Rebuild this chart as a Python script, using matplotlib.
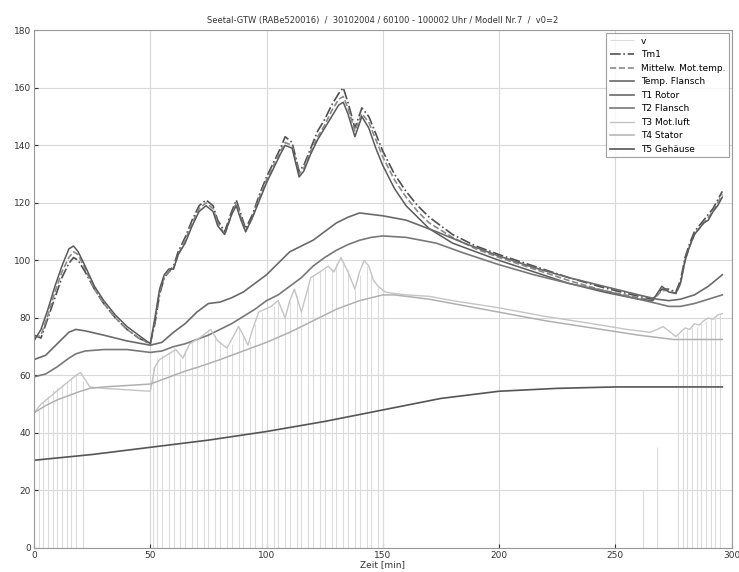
import numpy as np
import matplotlib
matplotlib.use("Agg")
import matplotlib.pyplot as plt

# Zeitachse der drei oberen Kurven (Motortemperaturen)
t_top = [0, 3, 6, 9, 12, 15, 17, 19, 22, 26, 30, 35, 40, 45, 50, 52, 54, 56, 58, 60,
         62, 65, 68, 71, 74, 77, 79, 82, 85, 87, 89, 91, 94, 97, 100, 103, 106, 108, 111, 114,
         116, 119, 122, 125, 128, 131, 133, 135, 138, 141, 144, 147, 150, 155, 160, 165, 170, 180, 190, 200,
         215, 230, 245, 260, 266, 270, 273, 276, 278, 280, 282, 284, 286, 288, 290, 292, 294, 296]

tm1 = [74, 73, 80, 87, 94, 99, 101, 100, 96, 90, 85, 80, 76, 73, 71, 78, 88, 94, 96, 98,
       103, 108, 114, 119, 121, 119, 114, 110, 117, 121, 116, 111, 116, 123, 129, 134, 139, 143, 141, 131,
       133, 139, 145, 149, 154, 158, 160, 155, 146, 153, 150, 144, 138, 130, 124, 119, 115, 109, 105, 102,
       98, 94, 90.5, 87.5, 86.5, 90, 90, 89, 93, 101, 106, 110, 112, 114, 116, 118, 121, 124]

mittelw = [73, 74, 81, 89, 96, 101, 103, 102, 97, 90, 85, 80, 76, 73, 71, 79, 89, 94, 96, 97,
           102, 107, 113, 118, 120, 118, 113, 109, 116, 120, 115, 110, 115, 122, 128, 133, 138, 141, 140, 130,
           132, 138, 143, 147, 152, 156, 157, 153, 145, 151, 148, 142, 136, 128, 122, 117, 113, 108, 104, 101,
           97, 93, 89.5, 87, 86, 89.5, 89.5, 88.5, 92, 100, 105, 109, 111, 113, 115, 117, 120, 123]

flansch = [72, 76, 83, 91, 98, 104, 105, 103, 98, 91, 86, 81, 77, 74, 71, 80, 90, 95, 97, 97,
           102, 106, 112, 117, 119, 117, 112, 109, 116, 119, 114, 110, 115, 121, 127, 132, 137, 140, 139, 129,
           131, 137, 142, 146, 150, 154, 155, 151, 143, 150, 146, 139, 133, 125, 119, 115, 111, 106, 103, 100,
           96, 92, 89, 86.5, 86, 91, 89, 88.5, 92, 100, 105, 109, 111, 113, 114, 117, 119, 122]

# Modelltemperaturen T1, T2
t_mod = [0, 5, 10, 15, 18, 22, 30, 40, 50, 55, 60, 65, 70, 75, 80, 85, 90, 95, 100, 105,
         110, 115, 120, 125, 130, 135, 140, 145, 150, 160, 173, 185, 200, 215, 230, 245, 260, 268, 273, 278,
         284, 290, 296]
t1_rotor = [65.5, 67, 71, 75, 76, 75.5, 74, 72, 70.5, 71.5, 75, 78, 82, 85, 85.5, 87, 89, 92, 95, 99,
            103, 105, 107, 110, 113, 115, 116.5, 116, 115.5, 114, 110, 106, 101.5, 97.5, 94, 91, 88, 86.5, 86, 86.5,
            88, 91, 95]
t2_flansch = [59.5, 60.5, 63, 66, 67.5, 68.5, 69, 69, 68, 68.5, 70, 71, 72.5, 74, 76, 78, 80.5, 83, 86, 88,
              91, 94, 98, 101, 103.5, 105.5, 107, 108, 108.5, 108, 106, 102.5, 98.5, 95, 92, 89.5, 86.5, 85, 84, 84,
              85, 86.5, 88]

t_t3 = [0, 3, 6, 9, 12, 15, 18, 20, 22, 24, 30, 40, 50, 52, 54, 57, 61, 64, 67, 72,
        76, 79, 83, 86, 88, 90, 92, 94, 96.6, 102, 105, 108, 110, 112, 115, 117, 119, 123, 126.5, 129,
        132, 135, 138, 140, 142, 144, 146, 148, 151, 155, 160, 170, 180, 200, 220, 240, 255, 265, 268, 270.5,
        273, 276, 278, 280, 282, 284, 286, 288, 290, 292, 294, 296]
t3_luft = [47, 50, 52, 54, 56, 58, 60, 61, 58.5, 56, 55.5, 55, 54.5, 63, 65.5, 67, 69, 66, 71, 73.5,
           76, 72, 69.5, 74, 77, 74, 70.5, 76, 82, 84, 86, 80, 86, 90, 82, 88, 94, 96, 98, 96,
           101, 96, 90, 96, 100, 98, 93, 91, 89, 88.5, 88, 87.5, 86, 83.5, 80.5, 78, 76, 75, 76, 77,
           75.5, 73.5, 75, 76.5, 76, 78, 77.5, 79, 80, 79.5, 81, 81.5]

t_t4 = [0, 5, 10, 15, 20, 24, 30, 40, 50, 55, 60, 65, 71, 80, 90, 100, 110, 120, 130, 140,
        150, 155, 160, 170, 180, 200, 220, 240, 260, 270, 275, 285, 296]
t4_stator = [47, 49.5, 51.5, 53, 54.5, 55.5, 56, 56.5, 57, 58.5, 60, 61.5, 63, 65.5, 68.5, 71.5, 75, 79, 83, 86,
             88, 88, 87.5, 86.5, 85, 82, 79, 76.5, 74, 73, 72.5, 72.5, 72.5]

t_t5 = [0, 25, 50, 75, 100, 125, 150, 175, 200, 225, 250, 275, 296]
t5_gehaeuse = [30.5, 32.5, 35, 37.5, 40.5, 44, 48, 52, 54.5, 55.5, 56, 56, 56]

# Geschwindigkeit v (Signal springt immer wieder auf 0)
v_t = [2, 4, 6, 8, 10, 12, 14, 16, 18, 21,
       51, 53, 55, 58, 60, 63, 65, 68, 70, 73, 75, 78, 80, 83, 85, 88, 90, 93, 95, 98,
       100, 103, 105, 108, 110, 113, 115, 118, 120, 123, 125, 128, 130, 133, 135, 138, 140, 143, 145, 148,
       150, 262, 268, 277, 279, 281, 283, 285, 287, 289, 291, 293, 295]
v_kmh = [48, 51, 53, 55, 56, 57, 58, 59, 60, 58,
         63, 66, 67, 68, 70, 66, 69, 72, 73, 74, 76, 74, 72, 70, 71, 77, 74, 72, 78, 82,
         83, 84, 86, 80, 86, 88, 82, 91, 95, 96, 97, 97, 99, 100, 97, 90, 95, 98, 96, 91,
         90, 20, 35, 74, 75, 76, 77, 77, 78, 79, 80, 80, 81, 81]

fig = plt.figure(figsize=(7.39, 5.72), dpi=100)
ax = fig.add_axes([0.046, 0.042, 0.944, 0.905])

ax.vlines(v_t, 0, v_kmh[:len(v_t)], color='#dcdcdc', lw=0.8, label='v')
ax.plot(t_top, tm1, color='#505050', ls='-.', lw=1.2, label='Tm1')
ax.plot(t_top, mittelw, color='#8a8a8a', ls='--', lw=1.2, label='Mittelw. Mot.temp.')
ax.plot(t_top, flansch, color='#5a5a5a', ls='-', lw=1.1, label='Temp. Flansch')
ax.plot(t_mod, t1_rotor, color='#6a6a6a', lw=1.2, label='T1 Rotor')
ax.plot(t_mod, t2_flansch, color='#787878', lw=1.2, label='T2 Flansch')
ax.plot(t_t3, t3_luft, color='#c4c4c4', lw=1.0, label='T3 Mot.luft')
ax.plot(t_t4, t4_stator, color='#b0b0b0', lw=1.1, label='T4 Stator')
ax.plot(t_t5, t5_gehaeuse, color='#555555', lw=1.2, label='T5 Gehäuse')

ax.set_xlim(0, 300)
ax.set_ylim(0, 180)
ax.set_xticks(np.arange(0, 301, 50))
ax.set_yticks(np.arange(0, 181, 20))
ax.grid(True, color='#d8d8d8', lw=0.8)
ax.tick_params(direction='in', labelsize=6.5, colors='#333333', length=3, pad=2)
for s in ax.spines.values():
    s.set_color('#999999')

ax.set_title('Seetal-GTW (RABe520016)  /  30102004 / 60100 - 100002 Uhr / Modell Nr.7  /  v0=2',
             fontsize=6, color='#333333', pad=5)
ax.set_xlabel('Zeit [min]', fontsize=6.5, color='#333333', labelpad=0)

leg = ax.legend(loc='upper right', fontsize=6.5, frameon=True, fancybox=False,
                edgecolor='#888888', handlelength=2.6, borderaxespad=0.3, labelspacing=0.5)
leg.get_frame().set_linewidth(0.8)

fig.savefig('out.png', dpi=100)
